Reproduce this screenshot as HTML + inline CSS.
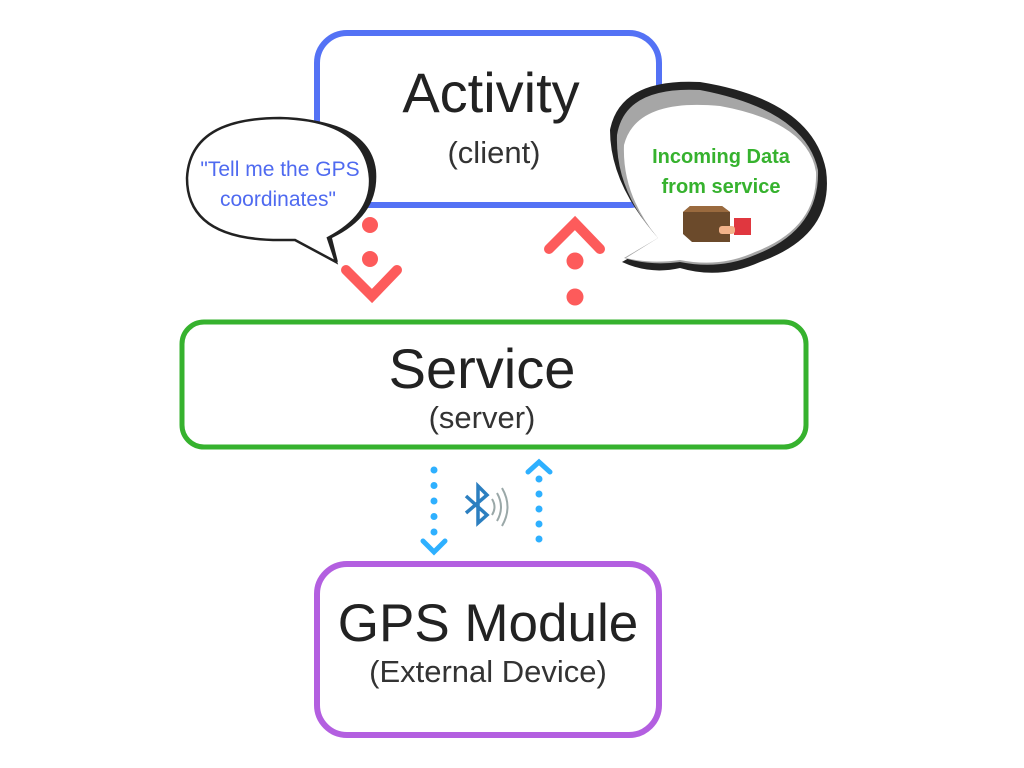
<!DOCTYPE html>
<html><head><style>
html,body{margin:0;padding:0;background:#fff;}
svg{display:block;}
text{font-family:"Liberation Sans",sans-serif;}
</style></head><body>
<svg width="1024" height="768" viewBox="0 0 1024 768" xmlns="http://www.w3.org/2000/svg">
<rect width="1024" height="768" fill="#fff"/>
<!-- Activity -->
<rect x="317" y="33" width="342" height="172" rx="30" fill="#fff" stroke="#5472f5" stroke-width="6"/>
<text x="491" y="112" font-size="56" text-anchor="middle" fill="#222" font-weight="300">Activity</text>
<text x="494" y="163" font-size="31" text-anchor="middle" fill="#333">(client)</text>
<!-- Service -->
<rect x="182" y="322" width="624" height="125" rx="22" fill="#fff" stroke="#36b22e" stroke-width="5"/>
<text x="482" y="388" font-size="56" text-anchor="middle" fill="#222">Service</text>
<text x="482" y="428" font-size="31" text-anchor="middle" fill="#333">(server)</text>
<!-- GPS -->
<rect x="317" y="564" width="342" height="171" rx="30" fill="#fff" stroke="#b35fe0" stroke-width="6"/>
<text x="488" y="641" font-size="53" text-anchor="middle" fill="#222">GPS Module</text>
<text x="488" y="682" font-size="31" text-anchor="middle" fill="#333">(External Device)</text>

<!-- left bubble -->
<path d="M300,240 L338,262 L332,238 Q380,215 376,170 Q370,122 290,118 Q340,130 345,175 Q345,220 300,240 Z" fill="#222"/>
<path d="M295,240 L336,262 L328,238 Q372,215 370,178 Q366,120 280,118 Q190,118 187,178 Q187,240 280,240 Z" fill="#fff" stroke="#222" stroke-width="2.5"/>
<text x="280" y="176" font-size="21" text-anchor="middle" fill="#4f6af0">"Tell me the GPS</text>
<text x="278" y="206" font-size="21" text-anchor="middle" fill="#4f6af0">coordinates"</text>

<!-- right bubble -->
<path d="M660,240 L622,262 Q650,275 680,268 Q720,280 760,262 Q835,235 826,170 Q812,100 700,82 Q620,78 610,130 Q610,185 660,240 Z" fill="#222"/>
<path d="M658,238 L624,258 Q650,266 680,262 Q720,270 755,255 Q820,230 818,170 Q805,110 700,90 Q625,86 617,135 Q615,190 658,238 Z" fill="#a6a6a6"/>
<path d="M658,238 L626,258 Q650,264 680,260 Q720,268 755,252 Q818,228 816,172 Q808,122 720,106 Q636,98 624,145 Q622,195 658,238 Z" fill="#fff"/>
<text x="721" y="163" font-size="20" font-weight="bold" text-anchor="middle" fill="#36b22e">Incoming Data</text>
<text x="721" y="193" font-size="20" font-weight="bold" text-anchor="middle" fill="#36b22e">from service</text>
<polygon points="683,212 690,206 722,206 730,212 730,242 692,242 683,234" fill="#6b4a2b"/>
<polygon points="683,212 690,206 722,206 730,212" fill="#9a6a3e"/>
<rect x="734" y="218" width="17" height="17" fill="#e0373f"/>
<rect x="719" y="226" width="16" height="8" rx="3" fill="#f2b38a"/>

<!-- red arrows -->
<g fill="#fd5b5b">
<circle cx="370" cy="225" r="8"/><circle cx="370" cy="259" r="8"/>
<circle cx="575" cy="261" r="8.5"/><circle cx="575" cy="297" r="8.5"/>
</g>
<g fill="none" stroke="#fd5b5b" stroke-width="10" stroke-linecap="round" stroke-linejoin="miter">
<polyline points="346,270 372,296 397,270"/>
<polyline points="549,249 575,223 600,249"/>
</g>

<!-- blue arrows -->
<g fill="#2eb0ff">
<circle cx="434" cy="470" r="3.5"/><circle cx="434" cy="485.5" r="3.5"/><circle cx="434" cy="501" r="3.5"/><circle cx="434" cy="516.5" r="3.5"/><circle cx="434" cy="532" r="3.5"/>
<circle cx="539" cy="479" r="3.5"/><circle cx="539" cy="494" r="3.5"/><circle cx="539" cy="509" r="3.5"/><circle cx="539" cy="524" r="3.5"/><circle cx="539" cy="539" r="3.5"/>
</g>
<g fill="none" stroke="#2eb0ff" stroke-width="5" stroke-linecap="round">
<polyline points="423,541 434,552 445,541"/>
<polyline points="528,472 539,462 550,472"/>
</g>
<!-- bluetooth -->
<polyline points="466,496 487,515 478,523 478,486 487,495 466,513" fill="none" stroke="#2c7fc0" stroke-width="3.5"/>
<path d="M492,499 Q497,507 492,515" fill="none" stroke="#9aa8a8" stroke-width="2"/>
<path d="M497,493 Q505,507 497,521" fill="none" stroke="#9aa8a8" stroke-width="2"/>
<path d="M502,488 Q513,507 502,526" fill="none" stroke="#9aa8a8" stroke-width="2"/>
</svg>
</body></html>
